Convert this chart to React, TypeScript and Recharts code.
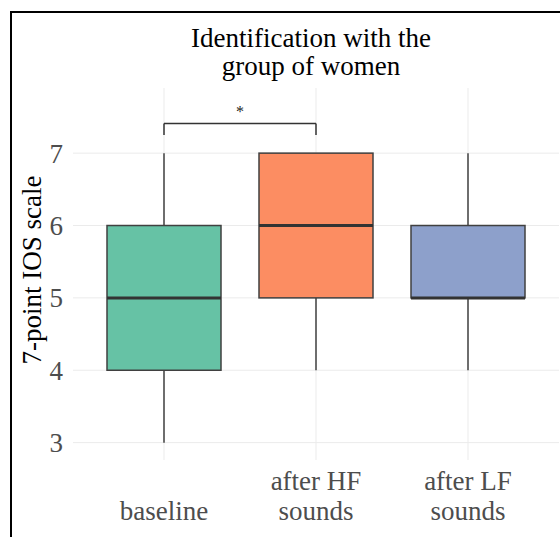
import {
  Bar,
  CartesianGrid,
  ComposedChart,
  Label,
  ReferenceLine,
  XAxis,
  YAxis
} from 'recharts'

const categories = ['baseline', 'after HF\nsounds', 'after LF\nsounds']
const mins = [3, 4, 4]
const q1s = [4, 5, 5]
const medians = [5, 6, 5]
const q3s = [6, 7, 6]
const maxs = [7, 7, 7]
const colors = ['#66C2A5', '#FC8D62', '#8DA0CB']
const yTicks = [3, 4, 5, 6, 7]

// significance bracket between baseline and after HF
const bracketFrom = categories[0]
const bracketTo = categories[1]
const bracketY = 7.41
const bracketTickY = 7.25
const bracketMark = '*'

const data = categories.map((name, i) => ({
  name,
  range: [q1s[i], q3s[i]],
  min: mins[i],
  q1: q1s[i],
  median: medians[i],
  q3: q3s[i],
  max: maxs[i],
  color: colors[i]
}))

const FONT = "'Liberation Serif', 'Times New Roman', serif"

const BoxShape = (props: any) => {
  const { x, y, width, height } = props
  const p = props.payload ?? props
  const ppu = height / (p.q3 - p.q1)
  const toY = (v: number) => y + (p.q3 - v) * ppu
  const cx = x + width / 2
  return (
    <g>
      {p.max > p.q3 && (
        <line x1={cx} x2={cx} y1={toY(p.max)} y2={y} stroke='#404040' strokeWidth={1.5} />
      )}
      {p.min < p.q1 && (
        <line x1={cx} x2={cx} y1={y + height} y2={toY(p.min)} stroke='#404040' strokeWidth={1.5} />
      )}
      <rect x={x} y={y} width={width} height={height} fill={p.color} stroke='#404040' strokeWidth={1.5} />
      <line x1={x} x2={x + width} y1={toY(p.median)} y2={toY(p.median)} stroke='#333333' strokeWidth={3} />
    </g>
  )
}

const XTick = (props: any) => {
  const { x, y, payload } = props
  const lines = String(payload.value).split('\n')
  const last = 60
  return (
    <g>
      {lines.map((l, i) => (
        <text
          key={i}
          x={x}
          y={y + last - (lines.length - 1 - i) * 30}
          textAnchor='middle'
          fill='#4d4d4d'
          fontSize={27}
          fontFamily={FONT}
        >
          {l}
        </text>
      ))}
    </g>
  )
}

export default function App() {
  return (
    <div
      style={{
        position: 'absolute',
        left: 0,
        top: 0,
        width: 560,
        height: 537,
        overflow: 'hidden',
        background: '#fff'
      }}
    >
      <div
        style={{
          position: 'absolute',
          left: 10,
          top: 11,
          width: 620,
          height: 620,
          border: '2.5px solid #000'
        }}
      />
      <div
        style={{
          position: 'absolute',
          left: 0,
          top: 24,
          width: 622,
          textAlign: 'center',
          fontFamily: FONT,
          fontSize: 27,
          lineHeight: '28px',
          color: '#000'
        }}
      >
        Identification with the
        <br />
        group of women
      </div>
      <div style={{ position: 'absolute', left: 0, top: 0 }}>
        <ComposedChart
          width={560}
          height={537}
          data={data}
          margin={{ top: 88, right: 1, bottom: 0, left: 0 }}
        >
          <CartesianGrid
            stroke='#ebebeb'
            strokeWidth={1}
            horizontalValues={yTicks}
            verticalValues={categories}
          />
          <XAxis
            dataKey='name'
            axisLine={false}
            tickLine={false}
            tickSize={0}
            tickMargin={0}
            height={77}
            padding={{ left: 15, right: 15 }}
            interval={0}
            tick={<XTick />}
          />
          <YAxis
            type='number'
            domain={[2.76, 7.9]}
            ticks={yTicks}
            axisLine={false}
            tickLine={false}
            tickSize={0}
            tickMargin={10}
            width={73}
            tick={{ fill: '#4d4d4d', fontSize: 27, fontFamily: FONT }}
          >
            <Label
              content={() => (
                <text
                  x={41}
                  y={270}
                  transform='rotate(-90 41 270)'
                  textAnchor='middle'
                  fontSize={27}
                  fontFamily={FONT}
                  fill='#000'
                >
                  7-point IOS scale
                </text>
              )}
            />
          </YAxis>
          <Bar
            dataKey='range'
            barSize={114}
            shape={<BoxShape />}
            isAnimationActive={false}
          />
          <ReferenceLine
            segment={[
              { x: bracketFrom, y: bracketY },
              { x: bracketTo, y: bracketY }
            ]}
            stroke='#333'
            strokeWidth={1.5}
          >
            <Label
              value={bracketMark}
              position='top'
              offset={6}
              fontSize={16}
              fontFamily={FONT}
              fill='#222'
            />
          </ReferenceLine>
          <ReferenceLine
            segment={[
              { x: bracketFrom, y: bracketTickY },
              { x: bracketFrom, y: bracketY }
            ]}
            stroke='#333'
            strokeWidth={1.5}
          />
          <ReferenceLine
            segment={[
              { x: bracketTo, y: bracketTickY },
              { x: bracketTo, y: bracketY }
            ]}
            stroke='#333'
            strokeWidth={1.5}
          />
        </ComposedChart>
      </div>
    </div>
  )
}
